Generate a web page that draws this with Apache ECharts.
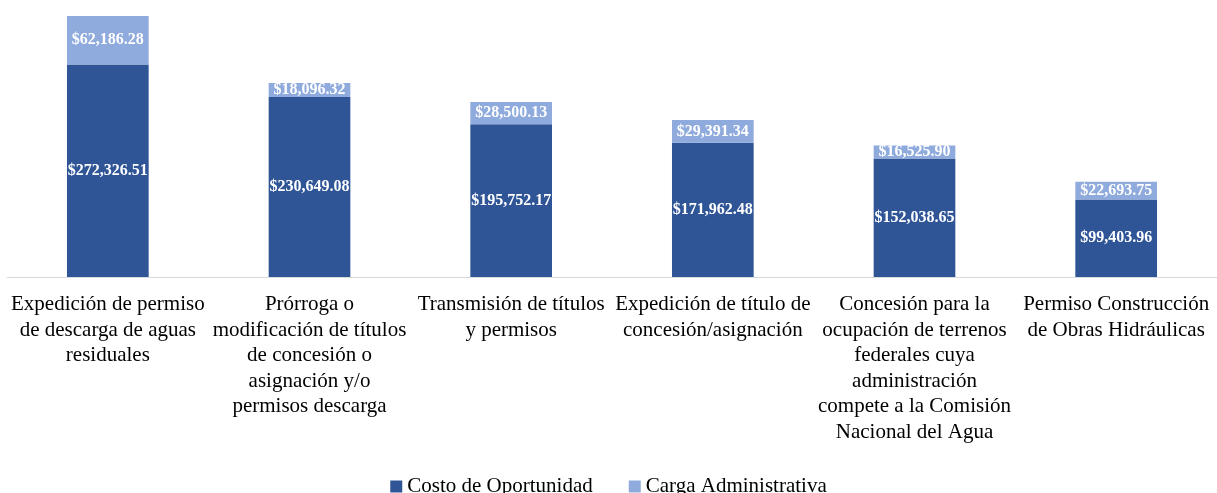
<!DOCTYPE html>
<html>
<head>
<meta charset="utf-8">
<script src="https://cdn.jsdelivr.net/npm/echarts@6/dist/echarts.min.js"></script>
<style>
html, body { margin: 0; padding: 0; background: #fff; }
#chart { width: 1217px; height: 493px; }
</style>
</head>
<body>
<div id="chart"></div>
<script>
// categorías (saltos de línea como en la imagen)
const categories = [
	'Expedición de permiso\nde descarga de aguas\nresiduales',
	'Prórroga o\nmodificación de títulos\nde concesión o\nasignación y/o\npermisos descarga',
	'Transmisión de títulos\ny permisos',
	'Expedición de título de\nconcesión/asignación',
	'Concesión para la\nocupación de terrenos\nfederales cuya\nadministración\ncompete a la Comisión\nNacional del Agua',
	'Permiso Construcción\nde Obras Hidráulicas',
]
const costoOportunidad = [272326.51, 230649.08, 195752.17, 171962.48, 152038.65, 99403.96]
const cargaAdministrativa = [62186.28, 18096.32, 28500.13, 29391.34, 16525.9, 22693.75]

const SERIF = '"Liberation Serif", "DejaVu Serif", serif'

const money = (v) =>
	'$' + v.toLocaleString('en-US', { minimumFractionDigits: 2, maximumFractionDigits: 2 })

const barLabel = {
	show: true,
	position: 'inside',
	color: '#fff',
	fontFamily: SERIF,
	fontWeight: 'bold',
	fontSize: 16,
	formatter: (p) => money(p.value),
}

const chart = echarts.init(document.getElementById('chart'))
chart.setOption({
	animation: false,
	grid: { left: 7, right: -6, top: 4, bottom: 216 },
	legend: {
		top: 471,
		left: 'center',
		itemWidth: 12,
		itemHeight: 12,
		itemGap: 36,
		icon: 'rect',
		textStyle: { fontFamily: SERIF, fontSize: 21, color: '#000' },
		data: ['Costo de Oportunidad', 'Carga Administrativa'],
	},
	xAxis: {
		type: 'category',
		data: categories,
		axisLine: { lineStyle: { color: '#D9D9D9', width: 1 } },
		axisTick: { show: false },
		axisLabel: {
			interval: 0,
			margin: 15,
			fontFamily: SERIF,
			fontSize: 21,
			lineHeight: 25.5,
			color: '#000',
		},
	},
	yAxis: {
		type: 'value',
		show: false,
		min: 0,
		max: 350000,
	},
	series: [
		{
			name: 'Costo de Oportunidad',
			type: 'bar',
			stack: 'total',
			barWidth: '40.5%',
			itemStyle: { color: '#2F5597' },
			label: barLabel,
			data: costoOportunidad,
		},
		{
			name: 'Carga Administrativa',
			type: 'bar',
			stack: 'total',
			itemStyle: { color: '#8FAADC' },
			label: barLabel,
			data: cargaAdministrativa,
		},
	],
})
</script>
</body>
</html>
